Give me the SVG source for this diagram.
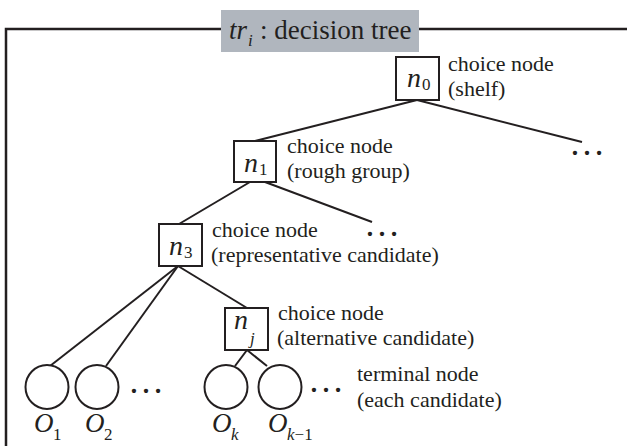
<svg xmlns="http://www.w3.org/2000/svg" width="627" height="446" viewBox="0 0 627 446">
<style>
.t{font-family:"Liberation Serif","Times New Roman",serif;font-size:22px;fill:#231f20}
.v{font-family:"Liberation Serif","Times New Roman",serif;font-style:italic;fill:#231f20}
.box{fill:#fff;stroke:#231f20;stroke-width:2}
.circ{fill:#fff;stroke:#231f20;stroke-width:2}
.e{stroke:#231f20;stroke-width:2;fill:none}
.dots{font-family:"Liberation Serif","Times New Roman",serif;font-size:36px;fill:#231f20}
</style>
<rect width="627" height="446" fill="#fff"/>
<g id="frame">
<path d="M6,446 V29 H627" fill="none" stroke="#231f20" stroke-width="2.5"/>
<rect x="221" y="10" width="198" height="42" fill="#b0b6be"/>
<text x="229" y="39" font-size="27" class="v">tr</text>
<text x="248" y="46" font-size="17" class="v">i</text>
<text x="260" y="39" class="t" style="font-size:27px">: decision tree</text>
</g>
<g id="connectors">
<line class="e" x1="417" y1="100" x2="255" y2="141"/>
<line class="e" x1="417" y1="100" x2="582" y2="142"/>
<line class="e" x1="250" y1="182" x2="179" y2="224"/>
<line class="e" x1="265" y1="182" x2="372" y2="222"/>
<line class="e" x1="178" y1="266" x2="50" y2="366"/>
<line class="e" x1="178" y1="266" x2="106" y2="366"/>
<line class="e" x1="178" y1="266" x2="247" y2="308"/>
<line class="e" x1="247" y1="350" x2="235" y2="366"/>
<line class="e" x1="247" y1="350" x2="267" y2="366"/>
</g>
<g id="n0">
<rect class="box" x="396" y="57" width="43" height="43"/>
<text x="407" y="87" font-size="28" class="v">n</text>
<text x="422" y="90" class="t" style="font-size:17px">0</text>
<text x="448" y="71" class="t">choice node</text>
<text x="448" y="96" class="t">(shelf)</text>
</g>
<g id="n0-more"><text x="569" y="155" class="dots">…</text></g>
<g id="n1">
<rect class="box" x="234" y="141" width="42" height="41"/>
<text x="244" y="172" font-size="28" class="v">n</text>
<text x="259" y="175" class="t" style="font-size:17px">1</text>
<text x="287" y="153" class="t">choice node</text>
<text x="287" y="178" class="t">(rough group)</text>
</g>
<g id="n1-more"><text x="364" y="236" class="dots">…</text></g>
<g id="n3">
<rect class="box" x="159" y="224" width="43" height="42"/>
<text x="169" y="255" font-size="28" class="v">n</text>
<text x="184" y="258" class="t" style="font-size:17px">3</text>
<text x="212" y="237" class="t">choice node</text>
<text x="211" y="262" class="t">(representative candidate)</text>
</g>
<g id="nj">
<rect class="box" x="225" y="308" width="43" height="42"/>
<text x="234" y="329" font-size="28" class="v">n</text>
<text x="250" y="344" font-size="17" class="v">j</text>
<text x="278" y="320" class="t">choice node</text>
<text x="277" y="345" class="t">(alternative candidate)</text>
</g>
<g id="O1">
<ellipse class="circ" cx="47" cy="387" rx="21.5" ry="22"/>
<text x="34" y="432" font-size="27" class="v">O</text>
<text x="53" y="440" class="t" style="font-size:17px">1</text>
</g>
<g id="O2">
<ellipse class="circ" cx="97" cy="387" rx="21.5" ry="22"/>
<text x="85" y="432" font-size="27" class="v">O</text>
<text x="104" y="440" class="t" style="font-size:17px">2</text>
</g>
<g id="O-more"><text x="128" y="393" class="dots">…</text></g>
<g id="Ok">
<ellipse class="circ" cx="226" cy="387" rx="21.5" ry="22"/>
<text x="212" y="432" font-size="27" class="v">O</text>
<text x="231" y="440" font-size="17" class="v">k</text>
</g>
<g id="Ok-1">
<ellipse class="circ" cx="280" cy="387" rx="21.5" ry="22"/>
<text x="268" y="432" font-size="27" class="v">O</text>
<text x="287" y="440" font-size="17" class="v">k<tspan font-style="normal">−1</tspan></text>
</g>
<g id="Ok-more"><text x="308" y="392" class="dots">…</text></g>
<g id="terminal-label">
<text x="357" y="381" class="t">terminal node</text>
<text x="357" y="407" class="t">(each candidate)</text>
</g>
</svg>
